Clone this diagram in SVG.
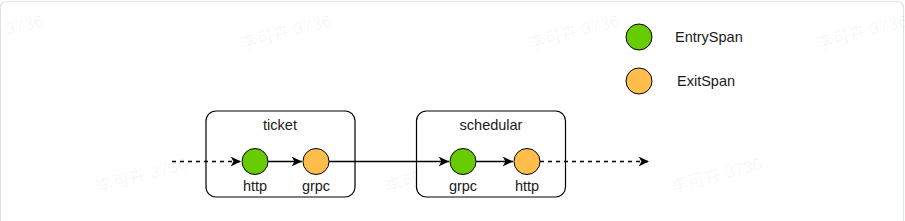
<svg xmlns="http://www.w3.org/2000/svg" width="905" height="221" viewBox="0 0 905 221">
  <style>
    .wm { font-family: "Liberation Sans", "Noto Sans CJK SC", sans-serif; font-size: 17px; fill: #000; fill-opacity: 0.05; }
    .box { fill: #ffffff; stroke: #000; stroke-width: 1.2; }
    .entry { fill: #66cc00; stroke: #000; stroke-width: 1; }
    .exit { fill: #ffbe4c; stroke: #000; stroke-width: 1; }
    .lbl { font-family: "Liberation Sans", Arial, sans-serif; font-size: 14.5px; fill: #1a1a1a; text-anchor: middle; }
    .leg { font-family: "Liberation Sans", Arial, sans-serif; font-size: 14.5px; fill: #1a1a1a; }
    .edge { fill: none; stroke: #000; stroke-width: 1.4; }
    .dash { stroke-dasharray: 4 4; }
  </style>
  <defs>
    <marker id="arr" markerUnits="userSpaceOnUse" markerWidth="12" markerHeight="12" refX="10.5" refY="5" orient="auto">
      <path d="M0,0 L10.5,5 L0,10 L3,5 Z" fill="#000"/>
    </marker>
  </defs>
  <rect x="0" y="0" width="905" height="221" fill="#ffffff"/>
  <rect x="0.5" y="1.5" width="903" height="226" rx="6" fill="#ffffff" stroke="#dfe3e3" stroke-width="1.2"/>

  <g id="watermarks">
    <text class="wm" transform="translate(-46,50) rotate(-15)">李可卉 3736</text>
    <text class="wm" transform="translate(242,50) rotate(-15)">李可卉 3736</text>
    <text class="wm" transform="translate(530,50) rotate(-15)">李可卉 3736</text>
    <text class="wm" transform="translate(818,50) rotate(-15)">李可卉 3736</text>
    <text class="wm" transform="translate(98,193) rotate(-15)">李可卉 3736</text>
    <text class="wm" transform="translate(387,193) rotate(-15)">李可卉 3736</text>
    <text class="wm" transform="translate(673,193) rotate(-15)">李可卉 3736</text>
  </g>

  <g id="legend">
    <circle class="entry" cx="639" cy="37" r="13"/>
    <text class="leg" x="675" y="42">EntrySpan</text>
    <circle class="exit" cx="639" cy="81" r="13"/>
    <text class="leg" x="677" y="86">ExitSpan</text>
  </g>

  <g id="ticket">
    <rect class="box" x="206" y="111" width="149" height="86" rx="10"/>
    <text class="lbl" x="280" y="130">ticket</text>
  </g>
  <g id="schedular">
    <rect class="box" x="416.5" y="111" width="149" height="86" rx="10"/>
    <text class="lbl" x="491" y="130">schedular</text>
  </g>

  <g id="connectors">
    <line class="edge dash" x1="172" y1="161.5" x2="241" y2="161.5" marker-end="url(#arr)"/>
    <line class="edge" x1="268" y1="161.5" x2="302" y2="161.5" marker-end="url(#arr)"/>
    <line class="edge" x1="329" y1="161.5" x2="449" y2="161.5" marker-end="url(#arr)"/>
    <line class="edge" x1="476" y1="161.5" x2="513" y2="161.5" marker-end="url(#arr)"/>
    <line class="edge dash" x1="540" y1="161.5" x2="649" y2="161.5" marker-end="url(#arr)"/>
  </g>

  <g id="ticket-http">
    <circle class="entry" cx="255" cy="161.5" r="13"/>
    <text class="lbl" x="255" y="191">http</text>
  </g>
  <g id="ticket-grpc">
    <circle class="exit" cx="316" cy="161.5" r="13"/>
    <text class="lbl" x="316" y="191">grpc</text>
  </g>
  <g id="schedular-grpc">
    <circle class="entry" cx="463" cy="161.5" r="13"/>
    <text class="lbl" x="463" y="191">grpc</text>
  </g>
  <g id="schedular-http">
    <circle class="exit" cx="527" cy="161.5" r="13"/>
    <text class="lbl" x="527" y="191">http</text>
  </g>
</svg>
